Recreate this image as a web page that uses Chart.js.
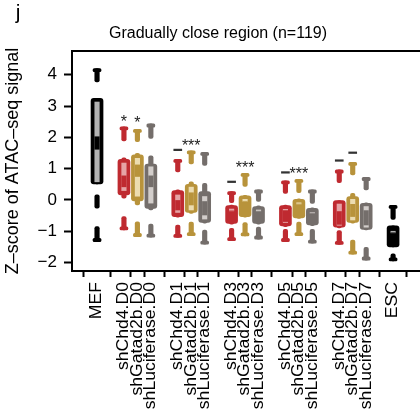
<!DOCTYPE html>
<html>
<head>
<meta charset="utf-8">
<script src="https://cdn.jsdelivr.net/npm/chart.js@4/dist/chart.umd.min.js"></script>
<style>
  html, body { margin: 0; padding: 0; background: #fff; }
  #c { display: block; }
</style>
</head>
<body>
<canvas id="c" width="420" height="412"></canvas>
<script>
// --- Data ---
const categories = [
  'MEF',
  'shChd4.D0', 'shGatad2b.D0', 'shLuciferase.D0',
  'shChd4.D1', 'shGatad2b.D1', 'shLuciferase.D1',
  'shChd4.D3', 'shGatad2b.D3', 'shLuciferase.D3',
  'shChd4.D5', 'shGatad2b.D5', 'shLuciferase.D5',
  'shChd4.D7', 'shGatad2b.D7', 'shLuciferase.D7',
  'ESC'
];
const slots = [0, 2, 3, 4, 6, 7, 8, 10, 11, 12, 14, 15, 16, 18, 19, 20, 22];

const capHi     = [4.20, 2.34, 2.26, 2.43, 1.30, 1.57, 1.52, 0.27, 0.85, 0.32, 0.61, 0.66, 0.32, 0.96, 1.20, 0.72, -0.17];
const whiskHi   = [3.77, 1.89, 1.86, 1.97, 0.90, 1.15, 1.10, -0.09, 0.43, -0.05, 0.21, 0.23, -0.11, 0.55, 0.80, 0.32, -0.62];
const spineHi   = [3.25, 1.35, 1.49, 1.41, 0.32, 0.58, 0.53, -0.16, 0.15, -0.19, -0.16, 0.04, -0.25, 0.00, 0.21, -0.09, -0.83];
const boxHi     = [3.25, 1.30, 1.44, 1.15, 0.30, 0.50, 0.27, -0.18, 0.13, -0.21, -0.18, 0.02, -0.27, -0.02, 0.11, -0.11, -0.83];
const q3        = [3.13, 1.18, 1.33, 1.06, 0.16, 0.41, 0.11, -0.29, 0.02, -0.32, -0.30, -0.09, -0.40, -0.13, 0.02, -0.21, -1.00];
const medHi     = [2.02, 0.77, 1.12, 0.77, 0.00, 0.23, -0.05, -0.35, -0.05, -0.36, -0.34, -0.13, -0.42, -0.37, -0.14, -0.34, -1.05];
const medLo     = [1.62, 0.42, 0.75, 0.42, -0.32, -0.16, -0.48, -0.35, -0.05, -0.36, -0.69, -0.13, -0.42, -0.78, -0.53, -0.80, -1.05];
const q1        = [0.58, 0.30, 0.12, -0.10, -0.40, -0.32, -0.61, -0.35, -0.05, -0.36, -0.72, -0.13, -0.42, -0.81, -0.64, -0.87, -1.05];
const boxLo     = [0.51, 0.16, -0.03, -0.27, -0.53, -0.40, -0.72, -0.75, -0.53, -0.75, -0.83, -0.57, -0.80, -0.87, -0.72, -0.94, -1.50];
const spineLo   = [0.51, 0.06, -0.16, -0.32, -0.55, -0.43, -0.74, -0.77, -0.55, -0.77, -0.85, -0.59, -0.82, -0.89, -0.74, -0.96, -1.50];
const whiskLo   = [-0.85, -0.53, -0.70, -0.77, -0.80, -0.71, -0.96, -0.91, -0.72, -0.87, -0.94, -0.71, -0.94, -0.98, -1.28, -1.51, -1.72];
const capLo     = [-1.33, -0.96, -1.17, -1.19, -1.20, -1.14, -1.41, -1.30, -1.15, -1.25, -1.33, -1.14, -1.38, -1.42, -1.73, -1.92, -1.95];

// extra short segment under the MEF box
const extraSlots = [0];
const extraLo = [-0.26];
const extraHi = [0.16];

// significance marks
const starSlots  = [2, 3, 7, 11, 15];
const starValues = [2.61, 2.58, 1.84, 1.15, 0.96];
const starText   = ['*', '*', '***', '***', '***'];
const dashSlots  = [6, 10, 14, 18, 19];
const dashValues = [1.60, 0.58, 0.88, 1.26, 1.51];

const yTicks = [-2, -1, 0, 1, 2, 3, 4];

// --- Styles ---
const FONT = "'Liberation Sans', Arial, Helvetica, sans-serif";
Chart.defaults.font.family = FONT;
Chart.defaults.color = '#000';

const palette = {
  ctrl:    { dark: '#000000', light: '#b3b3b3' },
  chd4:    { dark: '#bf2a30', light: '#e6a3a5' },
  gatad2b: { dark: '#b8933b', light: '#ecdcb0' },
  luc:     { dark: '#746e6b', light: '#d3cecb' }
};
function kindOf(name) {
  if (name.startsWith('shChd4')) return 'chd4';
  if (name.startsWith('shGatad2b')) return 'gatad2b';
  if (name.startsWith('shLuciferase')) return 'luc';
  return 'ctrl';
}
const darkColors = categories.map(n => palette[kindOf(n)].dark);
const lightColors = categories.map(n => palette[kindOf(n)].light);

const CAP = 0.1;  // cap thickness in data units
const DASH = 0.05;

const pts = (lo, hi) => slots.map((x, i) => ({ x, y: [lo[i], hi[i]] }));

function layer(data, thickness, color, order, radius) {
  return {
    data,
    barThickness: thickness,
    backgroundColor: color,
    borderWidth: 0,
    borderRadius: radius || 0,
    borderSkipped: false,
    grouped: false,
    order
  };
}

const datasets = [
  layer(pts(capHi.map(v => v - CAP), capHi), 8, darkColors, 1, 1.5),
  layer(pts(capLo, capLo.map(v => v + CAP)), 8, darkColors, 1, 1.5),
  layer(pts(whiskHi, capHi), 4.5, darkColors, 2, 2),
  layer(pts(capLo, whiskLo), 4.5, darkColors, 2, 2),
  layer(extraSlots.map((x, i) => ({ x, y: [extraLo[i], extraHi[i]] })), 4.5, '#000', 2, 2),
  layer(pts(medLo, medHi), 4.5, darkColors, 3, 0),
  layer(pts(q1, q3), 4.5, lightColors, 4, 0),
  layer(pts(boxLo, boxHi), 12, darkColors, 5, 3),
  layer(pts(spineLo, spineHi), 4.5, darkColors, 6, 2),
  layer(dashSlots.map((x, i) => ({ x, y: [dashValues[i] - DASH / 2, dashValues[i] + DASH / 2] })), 8, '#333', 1, 0)
];

// --- Plugin: frame top line, x labels, title, stars ---
const decorations = {
  id: 'decorations',
  afterDatasetsDraw(chart) {
    const { ctx, chartArea, scales } = chart;
    ctx.save();
    ctx.strokeStyle = '#000';
    ctx.lineWidth = 2;
    ctx.beginPath();
    ctx.moveTo(chartArea.left - 1, chartArea.top);
    ctx.lineTo(chartArea.right, chartArea.top);
    ctx.stroke();

    ctx.fillStyle = '#222';
    ctx.font = '16px ' + FONT;
    ctx.textAlign = 'center';
    ctx.textBaseline = 'alphabetic';
    starSlots.forEach((s, i) => {
      const px = scales.x.getPixelForValue(s);
      const py = scales.y.getPixelForValue(starValues[i]);
      ctx.fillText(starText[i], px, py + 9);
    });

    // category labels, rotated, read bottom to top (slightly tall glyphs like the figure)
    ctx.fillStyle = '#000';
    ctx.font = '16px ' + FONT;
    ctx.textAlign = 'right';
    ctx.textBaseline = 'middle';
    slots.forEach((s, i) => {
      const px = scales.x.getPixelForValue(s);
      ctx.save();
      ctx.translate(px, chartArea.bottom + 11);
      ctx.rotate(-Math.PI / 2);
      ctx.scale(1.1, 1);
      ctx.fillText(categories[i], 0, 0);
      ctx.restore();
    });

    ctx.textAlign = 'center';
    ctx.font = '16px ' + FONT;
    ctx.fillText('Gradually close region (n=119)', 218, 34);
    ctx.font = '21px ' + FONT;
    ctx.fillText('j', 18, 13);
    ctx.restore();
  }
};

new Chart(document.getElementById('c'), {
  type: 'bar',
  data: { datasets },
  options: {
    responsive: false,
    animation: false,
    layout: { padding: { top: 51, right: 0, bottom: 0, left: 0 } },
    plugins: { legend: { display: false }, tooltip: { enabled: false }, title: { display: false } },
    scales: {
      x: {
        type: 'linear',
        min: -1.86,
        max: 24.0,
        offset: false,
        afterBuildTicks: s => { s.ticks = slots.map(v => ({ value: v })); },
        afterFit: s => { s.height = 141; s.paddingLeft = 0; s.paddingRight = 0; },
        ticks: { display: false },
        grid: { drawOnChartArea: false, tickLength: 6, tickWidth: 2, tickColor: '#000' },
        border: { display: true, width: 2, color: '#000' }
      },
      y: {
        min: -2.27,
        max: 4.76,
        afterBuildTicks: s => { s.ticks = yTicks.map(v => ({ value: v })); },
        afterFit: s => { s.width = 72; s.paddingTop = 0; s.paddingBottom = 0; },
        ticks: {
          padding: 7,
          font: { size: 17 },
          color: '#000',
          callback: v => (v < 0 ? '\u2212' + Math.abs(v) : String(v))
        },
        grid: { drawOnChartArea: false, tickLength: 8, tickWidth: 2, tickColor: '#000' },
        border: { display: true, width: 2, color: '#000' },
        title: {
          display: true,
          text: 'Z\u2013score of ATAC\u2013seq signal',
          font: { size: 18 },
          color: '#000',
          padding: { top: 2, bottom: 0 }
        }
      }
    }
  },
  plugins: [decorations]
});
</script>
</body>
</html>
